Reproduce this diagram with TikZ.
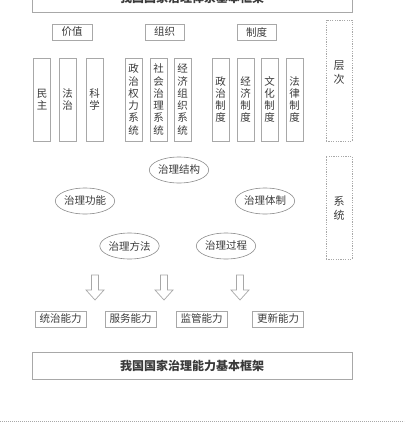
\documentclass[tikz,border=0pt]{standalone}
\usepackage{fontspec}
\setmainfont{Noto Sans CJK SC}
\usetikzlibrary{shapes.geometric}
\definecolor{boxline}{HTML}{A8A8A8}
\definecolor{ellline}{HTML}{8C8C8C}
\definecolor{txt}{HTML}{3A3A3A}
\tikzset{
  every node/.style={text=txt},
  bigbox/.style={draw=boxline, line width=0.8pt, minimum width=320pt, inner sep=0pt},
  headbox/.style={draw=boxline, line width=0.8pt, minimum width=39pt, minimum height=16pt, inner sep=0pt, font=\fontsize{10.5}{12}\selectfont},
  colbox/.style={draw=boxline, line width=0.8pt, minimum width=17pt, minimum height=83pt, inner sep=0pt, align=center, font=\fontsize{10.5}{12.3}\selectfont},
  sidebox/.style={draw=boxline, dashed, dash pattern=on 1.2pt off 1.2pt, line width=0.7pt, minimum width=26pt, inner sep=0pt},
  sidetext/.style={align=center, font=\fontsize{11}{14}\selectfont, inner sep=0pt},
  ell/.style={draw=ellline, line width=0.6pt, ellipse, minimum width=57pt, minimum height=26pt, inner sep=0pt, font=\fontsize{10.5}{12}\selectfont},
  capbox/.style={draw=boxline, line width=0.8pt, minimum width=51pt, minimum height=16pt, inner sep=0pt, font=\fontsize{10.5}{12}\selectfont},
  harrow/.style={draw=boxline, line width=0.7pt, fill=white},
}
\begin{document}
\begin{tikzpicture}[x=1pt, y=-1pt]
\useasboundingbox (0,0) rectangle (404,425);
\clip (0,0) rectangle (404,425);
% top frame (cut off)
\node[bigbox, minimum height=28pt, font=\bfseries\fontsize{12}{13}\selectfont] (top) at (192,-2) {我国国家治理体系基本框架};
% heading boxes
\node[headbox, minimum width=40pt] (jz) at (72,32) {价值};
\node[headbox] (zz) at (164.5,32) {组织};
\node[headbox] (zd) at (256.5,32) {制度};
% column boxes
\node[colbox] (c1) at (42,99.5) {民\\主};
\node[colbox] (c2) at (67.5,99.5) {法\\治};
\node[colbox] (c3) at (94.5,99.5) {科\\学};
\node[colbox] (c4) at (133.5,99.5) {政\\治\\权\\力\\系\\统};
\node[colbox] (c5) at (158.5,99.5) {社\\会\\治\\理\\系\\统};
\node[colbox] (c6) at (182.5,99.5) {经\\济\\组\\织\\系\\统};
\node[colbox] (c7) at (220.5,99.5) {政\\治\\制\\度};
\node[colbox] (c8) at (245.5,99.5) {经\\济\\制\\度};
\node[colbox] (c9) at (269.5,99.5) {文\\化\\制\\度};
\node[colbox] (c10) at (294.5,99.5) {法\\律\\制\\度};
% side dashed boxes
\node[sidebox, minimum height=121pt] (cc) at (339,80.5) {};
\node[sidetext] (cct) at (339,73) {层\\次};
\node[sidebox, minimum height=103pt] (xt) at (339,207.5) {};
\node[sidetext] (xtt) at (339,208) {系\\统};
% ellipses
\node[ell] (e1) at (179,170) {治理结构};
\node[ell] (e2) at (85,201) {治理功能};
\node[ell] (e3) at (265,201) {治理体制};
\node[ell] (e4) at (129.5,246) {治理方法};
\node[ell] (e5) at (226,246) {治理过程};
% hollow arrows
\foreach \cx/\nm in {95/a1,164/a2,240/a3}{
  \coordinate (\nm) at (\cx,275);
  \draw[harrow] (\nm) ++(-3.5,0) -- ++(0,15) -- ++(-5.5,0) -- ++(9,10) -- ++(9,-10) -- ++(-5.5,0) -- ++(0,-15) -- cycle;
}
% capacity boxes
\node[capbox] (k1) at (60.5,319) {统治能力};
\node[capbox] (k2) at (130.5,319) {服务能力};
\node[capbox] (k3) at (201.5,319) {监管能力};
\node[capbox] (k4) at (278,319) {更新能力};
% bottom frame
\node[bigbox, minimum height=27pt, font=\bfseries\fontsize{12}{13}\selectfont] (bot) at (192,365.5) {我国国家治理能力基本框架};
% dotted separator
\coordinate (dl) at (0,421);
\coordinate (dr) at (404,421);
\draw[boxline, line width=0.6pt, dash pattern=on 0.8pt off 1.2pt] (dl) -- (dr);
\end{tikzpicture}
\end{document}
